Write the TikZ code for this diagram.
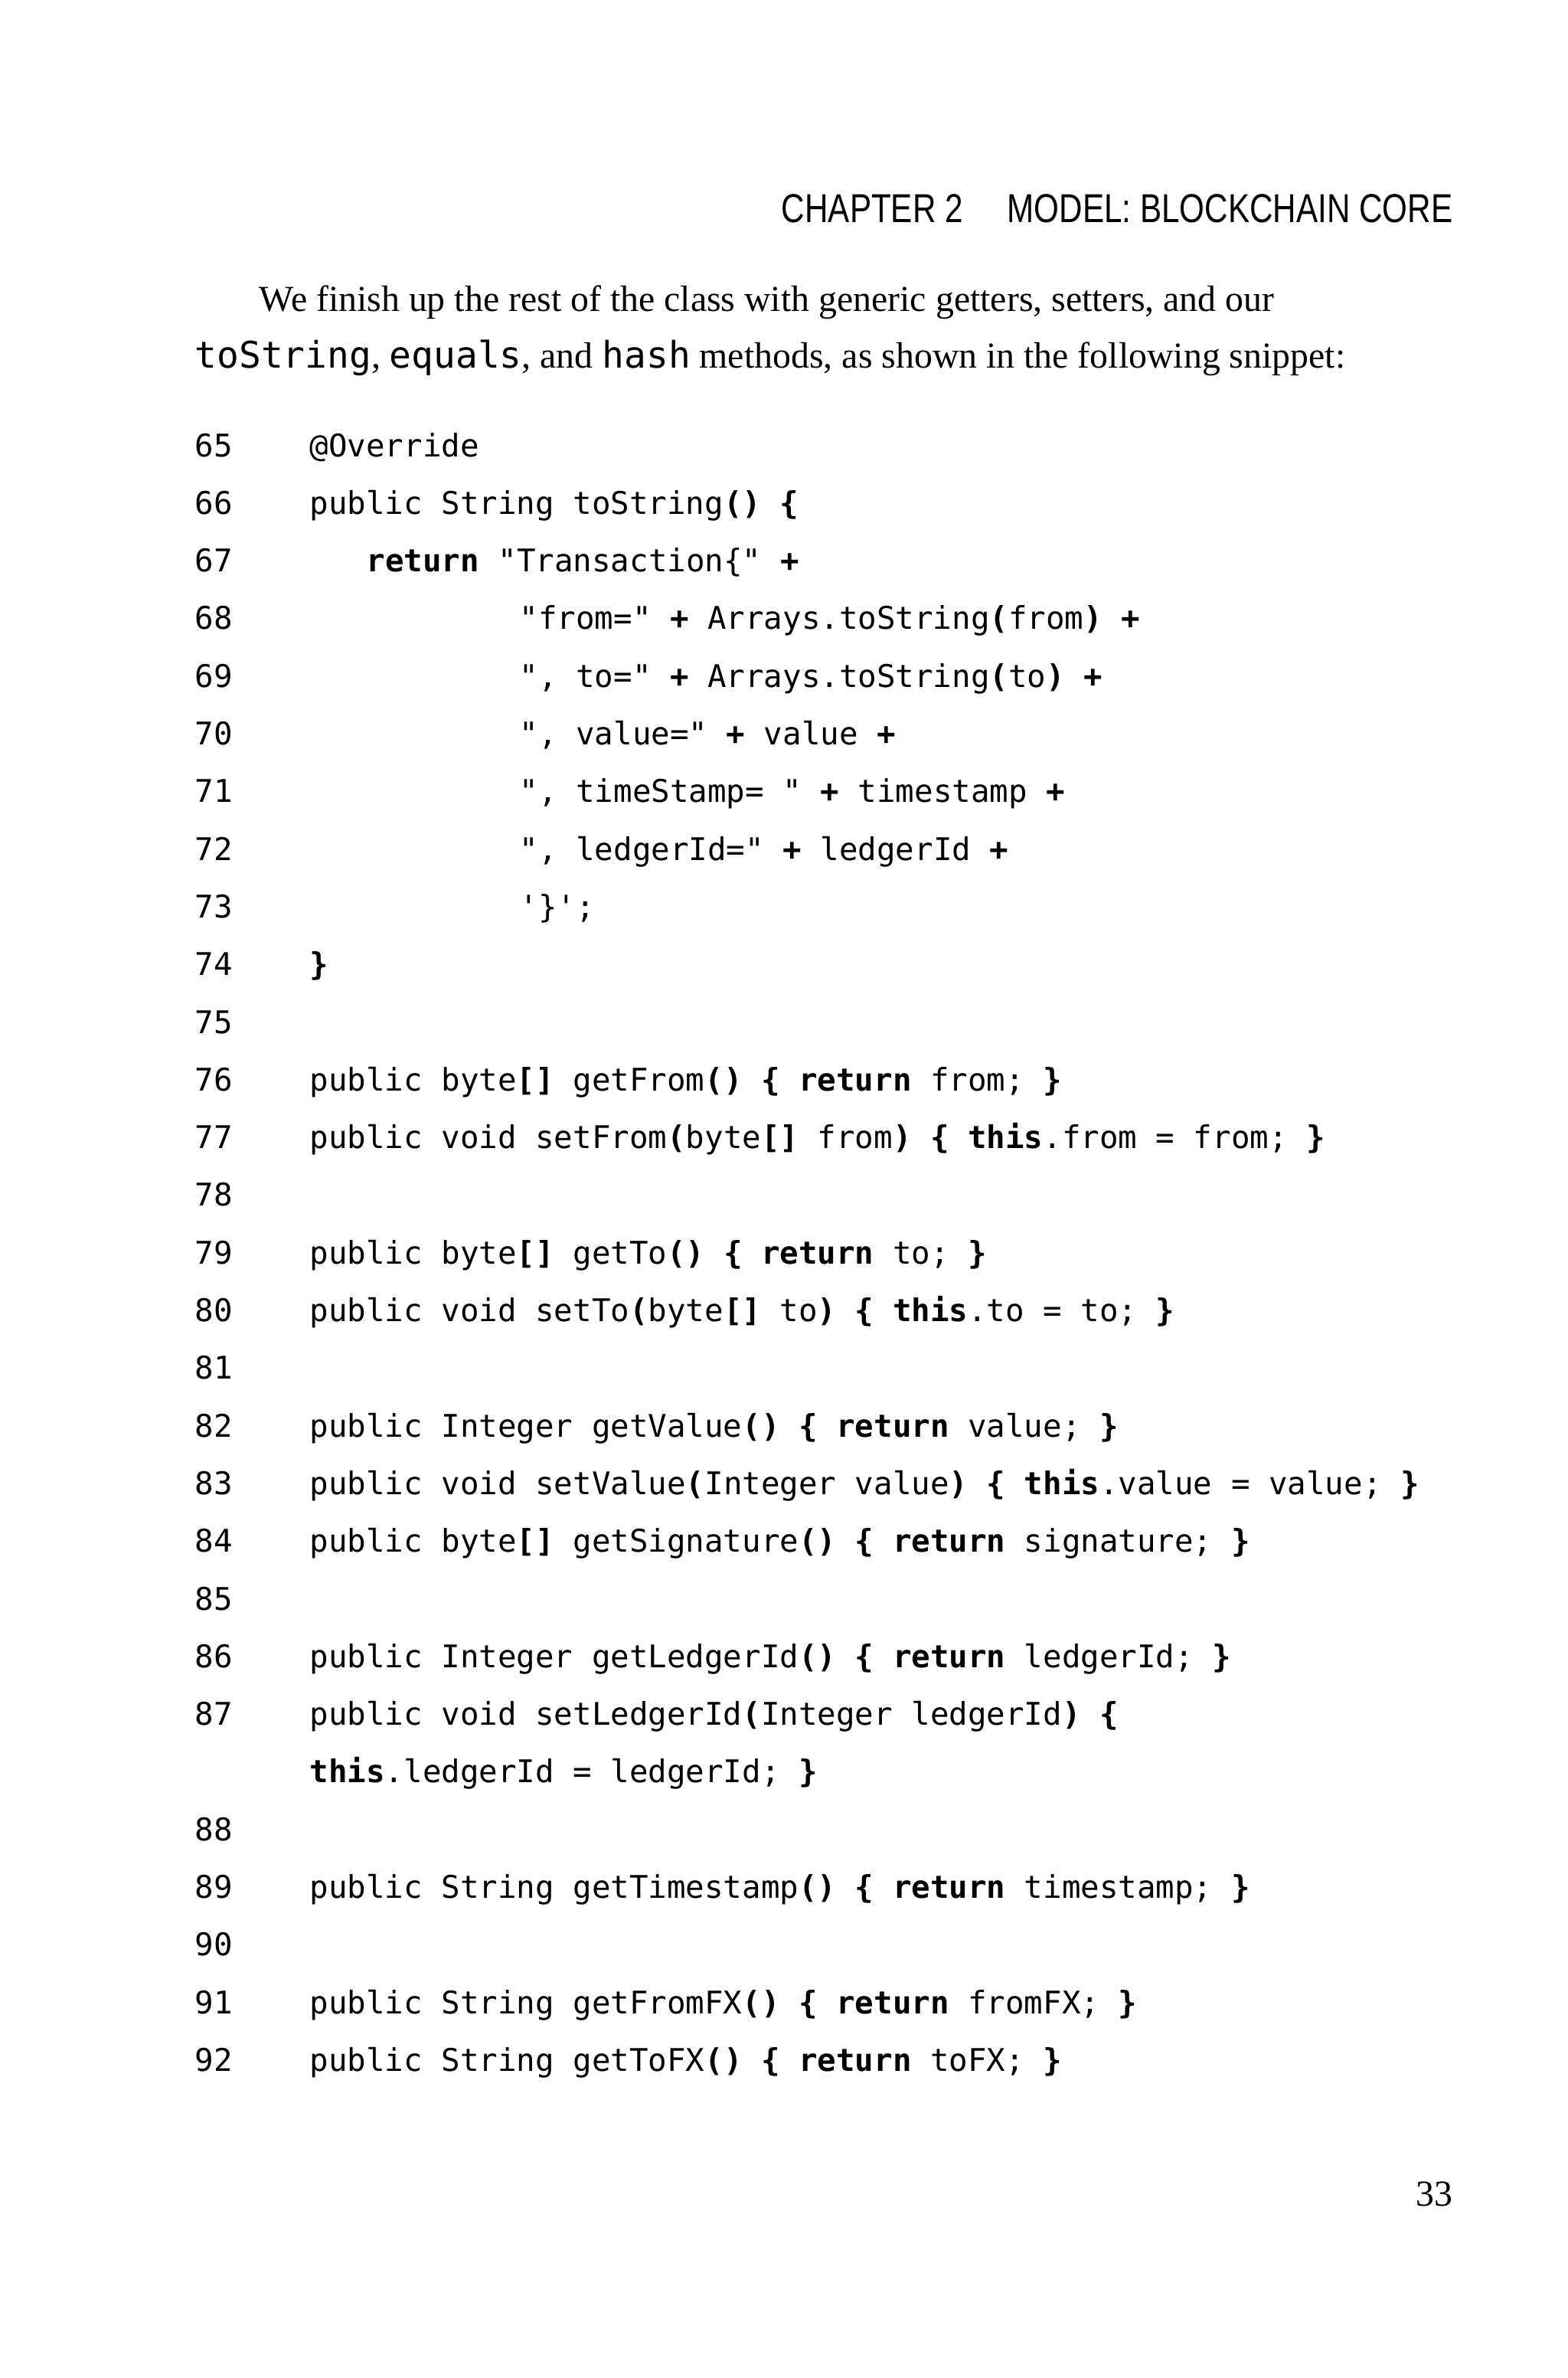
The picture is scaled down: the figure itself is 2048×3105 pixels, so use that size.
\documentclass[tikz,border=0pt]{standalone}
\usepackage{fontspec}
\setmainfont{Liberation Serif}
\newfontfamily\hdfont[FakeStretch=0.8]{Liberation Sans}
\newfontfamily\codefont{DejaVu Sans Mono}
\newcommand{\B}[1]{{\bfseries #1}}
\begin{document}
\begin{tikzpicture}[x=0.01cm,y=-0.01cm,
  cl/.style={anchor=base west,inner sep=0,font=\codefont\fontsize{11.6}{14}\selectfont},
  nl/.style={anchor=base west,inner sep=0,font=\codefont\fontsize{11.6}{14}\selectfont},
  bt/.style={anchor=base west,inner sep=0,font=\fontsize{13.6}{16}\selectfont}]
\fill[white] (0,0) rectangle (2048,3105);
\node[anchor=base east,inner sep=0,font=\hdfont\fontsize{15}{18}\selectfont] (hd) at (1898,290) {CHAPTER 2\hspace{1.1em}MODEL: BLOCKCHAIN CORE};
\node[bt] (p1) at (338,406) {We finish up the rest of the class with generic getters, setters, and our};
\node[bt] (p2) at (254,480) {{\codefont toString}, {\codefont equals}, and {\codefont hash} methods, as shown in the following snippet:};
\foreach \n/\r in {65/0,66/1,67/2,68/3,69/4,70/5,71/6,72/7,73/8,74/9,75/10,76/11,77/12,78/13,79/14,80/15,81/16,82/17,83/18,84/19,85/20,86/21,87/22,88/24,89/25,90/26,91/27,92/28}
  \node[nl] (n\n) at (254,{596+75.3*\r}) {\n};
\node[cl] (c0) at (404,{596+75.3*0}) {@Override};
\node[cl] (c1) at (404,{596+75.3*1}) {public String toString\B{() \{}};
\node[cl] (c2) at (478,{596+75.3*2}) {\B{return} "Transaction\{" \B{+}};
\node[cl] (c3) at (678,{596+75.3*3}) {"from=" \B{+} Arrays.toString\B{(}from\B{)} \B{+}};
\node[cl] (c4) at (678,{596+75.3*4}) {", to=" \B{+} Arrays.toString\B{(}to\B{)} \B{+}};
\node[cl] (c5) at (678,{596+75.3*5}) {", value=" \B{+} value \B{+}};
\node[cl] (c6) at (678,{596+75.3*6}) {", timeStamp= " \B{+} timestamp \B{+}};
\node[cl] (c7) at (678,{596+75.3*7}) {", ledgerId=" \B{+} ledgerId \B{+}};
\node[cl] (c8) at (678,{596+75.3*8}) {'\}';};
\node[cl] (c9) at (404,{596+75.3*9}) {\B{\}}};
\node[cl] (c11) at (404,{596+75.3*11}) {public byte\B{[]} getFrom\B{() \{ return} from; \B{\}}};
\node[cl] (c12) at (404,{596+75.3*12}) {public void setFrom\B{(}byte\B{[]} from\B{) \{ this}.from = from; \B{\}}};
\node[cl] (c14) at (404,{596+75.3*14}) {public byte\B{[]} getTo\B{() \{ return} to; \B{\}}};
\node[cl] (c15) at (404,{596+75.3*15}) {public void setTo\B{(}byte\B{[]} to\B{) \{ this}.to = to; \B{\}}};
\node[cl] (c17) at (404,{596+75.3*17}) {public Integer getValue\B{() \{ return} value; \B{\}}};
\node[cl] (c18) at (404,{596+75.3*18}) {public void setValue\B{(}Integer value\B{) \{ this}.value = value; \B{\}}};
\node[cl] (c19) at (404,{596+75.3*19}) {public byte\B{[]} getSignature\B{() \{ return} signature; \B{\}}};
\node[cl] (c21) at (404,{596+75.3*21}) {public Integer getLedgerId\B{() \{ return} ledgerId; \B{\}}};
\node[cl] (c22) at (404,{596+75.3*22}) {public void setLedgerId\B{(}Integer ledgerId\B{) \{}};
\node[cl] (c23) at (404,{596+75.3*23}) {\B{this}.ledgerId = ledgerId; \B{\}}};
\node[cl] (c25) at (404,{596+75.3*25}) {public String getTimestamp\B{() \{ return} timestamp; \B{\}}};
\node[cl] (c27) at (404,{596+75.3*27}) {public String getFromFX\B{() \{ return} fromFX; \B{\}}};
\node[cl] (c28) at (404,{596+75.3*28}) {public String getToFX\B{() \{ return} toFX; \B{\}}};
\node[anchor=base east,inner sep=0,font=\fontsize{13.6}{16}\selectfont] (pg) at (1898,2880) {33};
\end{tikzpicture}
\end{document}
